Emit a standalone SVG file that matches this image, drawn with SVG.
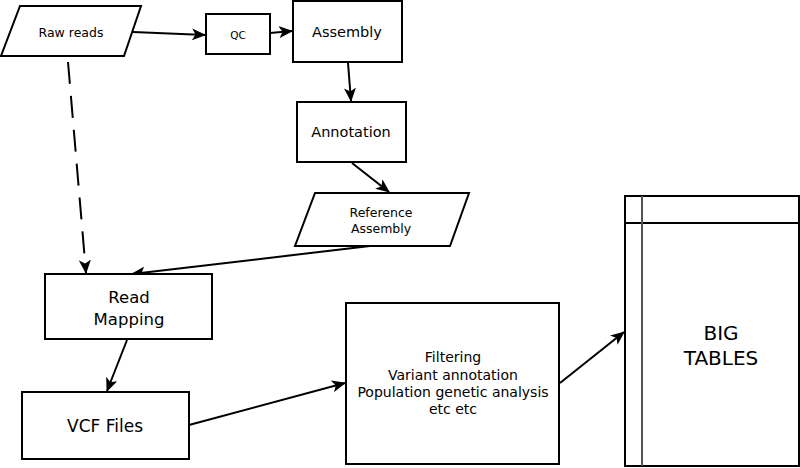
<svg xmlns="http://www.w3.org/2000/svg" width="800" height="468" viewBox="0 0 800 468">
<defs>
<style>
.n{fill:#fff;stroke:#000;stroke-width:2}
.t{font-family:"DejaVu Sans",Verdana,sans-serif;fill:#000;text-anchor:middle}
.c{fill:none;stroke:#000;stroke-width:2;marker-end:url(#a)}
</style>
<marker id="a" markerWidth="14" markerHeight="12" refX="13" refY="6" orient="auto" markerUnits="userSpaceOnUse">
<path d="M0,0 L14,6 L0,12 L3.5,6 z" fill="#000"/>
</marker>
</defs>
<rect width="800" height="468" fill="#fff"/>
<g id="connectors">
<path class="c" d="M133,32 L205,35"/>
<path class="c" d="M270,33 L292,31"/>
<path class="c" d="M348,63 L351,101"/>
<path class="c" d="M352,163 L389,192"/>
<path class="c" d="M370,246 L132,274"/>
<path class="c" d="M68,62 L86,273" stroke-dasharray="22,12"/>
<path class="c" d="M127,340 L107,391"/>
<path class="c" d="M189,425 L345,383"/>
<path class="c" d="M560,383 L624,332"/>
</g>
<g id="raw-reads">
<polygon class="n" points="20,6 141,6 124,56 1,56"/>
<text class="t" x="71" y="37" font-size="12.5">Raw reads</text>
</g>
<g id="qc">
<rect class="n" x="206" y="14" width="64" height="40"/>
<text class="t" x="238" y="39" font-size="10.5">QC</text>
</g>
<g id="assembly">
<rect class="n" x="293" y="1" width="109" height="61"/>
<text class="t" x="347" y="37" font-size="14.5">Assembly</text>
</g>
<g id="annotation">
<rect class="n" x="297" y="102" width="109" height="60"/>
<text class="t" x="351" y="137" font-size="14.5">Annotation</text>
</g>
<g id="reference-assembly">
<polygon class="n" points="315,193 469,193 450,246 295,246"/>
<text class="t" x="381" y="217" font-size="12.5">Reference</text>
<text class="t" x="381" y="233" font-size="12.5">Assembly</text>
</g>
<g id="read-mapping">
<rect class="n" x="45" y="274" width="167" height="65"/>
<text class="t" x="129" y="303" font-size="16.5">Read</text>
<text class="t" x="129" y="325" font-size="16.5">Mapping</text>
</g>
<g id="vcf-files">
<rect class="n" x="22" y="392" width="167" height="67"/>
<text class="t" x="105" y="432" font-size="17">VCF Files</text>
</g>
<g id="filtering">
<rect class="n" x="346" y="303" width="213" height="161"/>
<text class="t" x="453" y="362" font-size="14">Filtering</text>
<text class="t" x="453" y="380" font-size="14">Variant annotation</text>
<text class="t" x="453" y="397" font-size="14">Population genetic analysis</text>
<text class="t" x="453" y="414" font-size="14">etc etc</text>
</g>
<g id="big-tables">
<rect class="n" x="625" y="196" width="174" height="270"/>
<line x1="625" y1="223" x2="799" y2="223" stroke="#000" stroke-width="2"/>
<line x1="642" y1="196" x2="642" y2="466" stroke="#555" stroke-width="2"/>
<text class="t" x="721" y="340" font-size="20">BIG</text>
<text class="t" x="721" y="365" font-size="20">TABLES</text>
</g>
</svg>
